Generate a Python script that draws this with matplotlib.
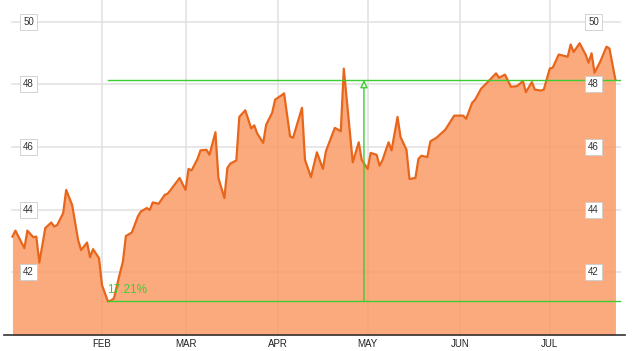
import matplotlib

matplotlib.use("Agg")
import matplotlib.dates as mdates
import matplotlib.pyplot as plt
import pandas as pd

plt.rcParams["font.family"] = ["Liberation Sans", "DejaVu Sans"]

# day offsets from 1 Jan (price series vertices)
day = [1, 2, 5, 6, 8, 9, 10, 12, 14, 15, 16, 18, 19, 21, 23, 24, 26, 27, 28, 30,
       31, 33, 34, 35, 37, 38, 39, 41, 43, 44, 46, 47, 48, 50, 52, 53, 54, 57, 59, 60,
       61, 63, 64, 66, 67, 69, 70, 72, 73, 74, 76, 77, 79, 81, 82, 83, 85, 86, 88, 89,
       91, 92, 94, 95, 98, 99, 101, 103, 105, 106, 109, 111, 112, 115, 117, 118, 120, 121, 123, 124,
       125, 127, 128, 130, 131, 133, 134, 136, 137, 138, 140, 141, 143, 146, 149, 152, 153, 155, 156, 158,
       160, 163, 164, 166, 168, 170, 172, 173, 175, 176, 178, 179, 181, 182, 184, 187, 188, 189, 191, 193,
       194, 195, 196, 198, 200, 201, 203]
price = [43.14, 43.33, 42.77, 43.33, 43.12, 43.14, 42.31, 43.41, 43.59, 43.46, 43.51, 43.89, 44.63, 44.15, 43.03, 42.71, 42.95, 42.48, 42.74, 42.45,
         41.59, 41.07, 41.10, 41.17, 41.97, 42.34, 43.16, 43.27, 43.78, 43.94, 44.05, 43.99, 44.23, 44.19, 44.47, 44.51, 44.63, 45.01, 44.63, 45.30,
         45.25, 45.62, 45.89, 45.91, 45.75, 46.47, 45.01, 44.37, 45.33, 45.47, 45.57, 46.96, 47.17, 46.59, 46.69, 46.43, 46.13, 46.71, 47.09, 47.51,
         47.64, 47.71, 46.34, 46.29, 47.25, 45.59, 45.04, 45.83, 45.30, 45.86, 46.61, 46.50, 48.50, 45.51, 46.15, 45.59, 45.30, 45.81, 45.75, 45.40,
         45.59, 46.15, 45.89, 46.96, 46.32, 45.91, 44.98, 45.01, 45.62, 45.72, 45.68, 46.18, 46.29, 46.55, 47.00, 47.00, 46.90, 47.41, 47.51, 47.86,
         48.05, 48.35, 48.21, 48.31, 47.92, 47.94, 48.10, 47.75, 48.07, 47.83, 47.80, 47.83, 48.50, 48.53, 48.95, 48.88, 49.27, 49.03, 49.31, 48.95,
         48.69, 48.99, 48.37, 48.74, 49.20, 49.14, 48.14]
y_ticks = [42, 44, 46, 48, 50]

LINE = "#e8661c"
FILL = "#fa9b66"
GREEN = "#3fcc33"
GRID = "#e0e0e0"

base = pd.Timestamp("2013-01-01")
dates = base + pd.to_timedelta(day, unit="D")
s = pd.Series(price, index=dates)

fig = plt.figure(figsize=(6.44, 3.51), dpi=100)
ax = fig.add_axes([4 / 644, 16 / 351, 621 / 644, 335 / 351])

x0 = mdates.date2num(base + pd.Timedelta(days=-1.83))
x1 = mdates.date2num(base + pd.Timedelta(days=206.2))
ax.set_xlim(x0, x1)
ax.set_ylim(40, 50.69)

# grid
for v in y_ticks:
    ax.axhline(v, xmin=8 / 621, xmax=616 / 621, color=GRID, lw=1.1, zorder=0)
ax.xaxis.set_major_locator(mdates.MonthLocator(bymonth=range(2, 8)))
ax.xaxis.set_major_formatter(plt.FuncFormatter(
    lambda x, pos: mdates.num2date(x).strftime("%b").upper()))
ax.grid(axis="x", color=GRID, lw=1.1, zorder=0)
ax.set_axisbelow(True)

ax.fill_between(s.index, s.values, 40, color=FILL, alpha=0.85, lw=0, zorder=1)
ax.plot(s.index, s.values, color=LINE, lw=1.6, zorder=3)

# min -> last change annotation
i_min = s.values.argmin()
lo, hi = s.values[i_min], s.values[-1]
xa = mdates.date2num(s.index[i_min])
xb = mdates.date2num(base + pd.Timedelta(days=204.5))
xm = (xa + xb) / 2
ax.plot([xa, xb], [lo, lo], color=GREEN, lw=1, zorder=4)
ax.plot([xa, xb], [hi, hi], color=GREEN, lw=1, zorder=4)
ax.annotate("", xy=(xm, hi), xytext=(xm, lo),
            arrowprops=dict(arrowstyle="-|>,head_length=0.45,head_width=0.22",
                            ec=GREEN, fc="white", lw=1, shrinkA=0, shrinkB=0),
            zorder=4)
ax.annotate(f"{(hi / lo - 1) * 100:.2f}%", xy=(xa, lo), xytext=(-1, 4),
            textcoords="offset points", ha="left", va="bottom",
            color=GREEN, fontsize=8.5, zorder=5)

# y labels in boxes, both sides
for v in y_ticks:
    for xf in (24.5 / 621, 589.5 / 621):
        ax.text(xf, v, str(v), transform=ax.get_yaxis_transform(),
                ha="center", va="center", fontsize=7, color="#333333", zorder=6,
                bbox=dict(boxstyle="square,pad=0.3", fc="white", ec="#cccccc", lw=0.6))

ax.set_yticks([])
for side in ("top", "left", "right"):
    ax.spines[side].set_visible(False)
ax.spines["bottom"].set_color("#333333")
ax.spines["bottom"].set_linewidth(1.2)
ax.tick_params(axis="x", length=0, pad=3, labelsize=7, labelcolor="#222222")

fig.savefig("out.png", dpi=100)
